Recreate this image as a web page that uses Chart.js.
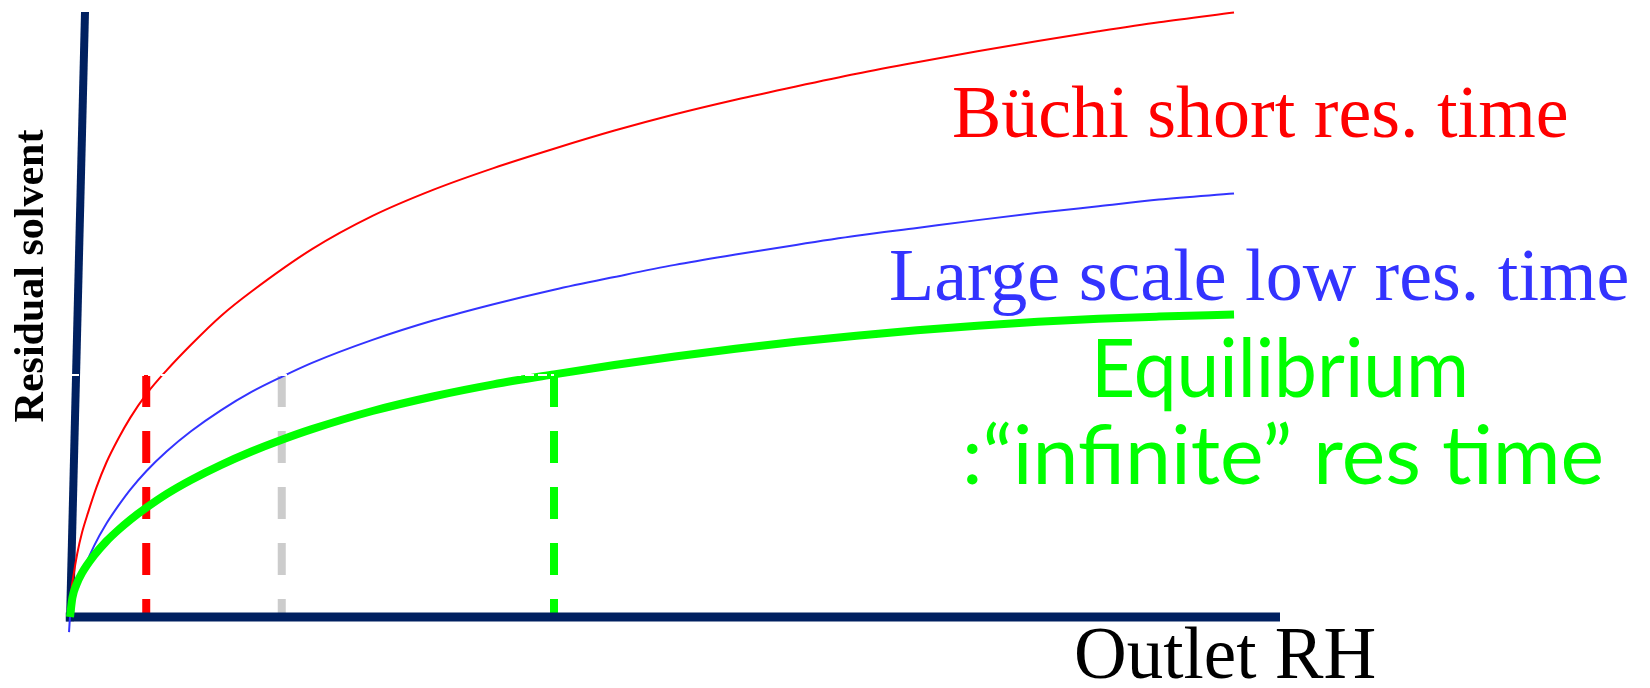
<!DOCTYPE html>
<html>
<head>
<meta charset="utf-8">
<script src="https://cdn.jsdelivr.net/npm/chart.js@4"></script>
<style>
  html, body { margin: 0; padding: 0; background: #ffffff; }
  #wrap { width: 1650px; height: 688px; }
</style>
</head>
<body>
<div id="wrap"><canvas id="c" width="1650" height="688"></canvas></div>
<script>
// Residual solvent vs outlet RH, three drying regimes (arbitrary units 0-100)
const redX   = [0, 0.1, 0.3, 0.6, 1, 1.5, 2.2, 3, 4, 5, 6.3, 8, 10, 12.5, 15, 20, 25, 30, 35, 40, 45, 50, 55, 60, 65, 70, 75, 80, 85, 90, 96.2];
const redY   = [0, 4, 7, 10.5, 14, 17.3, 21.5, 25.5, 29.5, 33, 36.8, 40.8, 45, 49.8, 53.8, 60.8, 66.3, 70.6, 74.2, 77.4, 80.4, 83.1, 85.5, 87.7, 89.8, 91.7, 93.5, 95.2, 96.8, 98.3, 99.9];

const blueX  = [-0.08, 0, 0.3, 0.7, 1.2, 2, 3, 4, 5, 6.3, 8, 10, 12.5, 15, 17.5, 20, 25, 30, 35, 40, 45, 50, 55, 60, 65, 70, 75, 80, 85, 90, 96.2];
const blueY  = [-2.5, 0, 3, 5.5, 8.2, 11.8, 15.4, 18.4, 21.1, 24.1, 27.4, 30.7, 34.2, 37.2, 39.7, 42, 45.8, 49, 51.7, 54.1, 56.2, 58.2, 59.9, 61.5, 63, 64.3, 65.6, 66.8, 67.9, 69, 70];

const greenX = [0, 0.2, 0.5, 1, 2, 3, 4, 5, 6.3, 8, 10, 12.5, 15, 17.5, 20, 25, 30, 35, 40, 45, 50, 55, 60, 65, 70, 75, 80, 85, 90, 96.2];
const greenY = [0, 3.2, 5.2, 7.3, 10.2, 12.5, 14.4, 16.1, 18.05, 20.35, 22.65, 25.15, 27.35, 29.3, 31.05, 34.05, 36.45, 38.45, 40.1, 41.65, 43.05, 44.35, 45.5, 46.5, 47.4, 48.15, 48.8, 49.3, 49.65, 50];

// drop lines from each curve down to the RH axis
const dropX      = [6.3, 17.5, 40];
const dropColors = ['#FF0000', '#CCCCCC', '#00FF00'];
const dropLevel  = 40;

// axis frame (y axis leans slightly right)
const axisXLine = { x: [-0.35, 100], y: [0, 0] };
const axisYLine = { x: [0, 1.24], y: [-0.7, 100] };

// faint guide at the drop-line level
const guideX = [0, 40];
const guideY = [40, 40];

const pts = (xs, ys) => xs.map((x, i) => ({ x: x, y: ys[i] }));

const curve = (data, color, width, order) => ({
  data: data, borderColor: color, borderWidth: width, order: order,
  pointRadius: 0, cubicInterpolationMode: 'monotone', fill: false, clip: false
});

const datasets = [
  { data: pts(guideX, guideY), borderColor: '#ffffff', borderWidth: 2, borderDash: [9, 4],
    pointRadius: 0, order: 0, clip: false },
  curve(pts(greenX, greenY), '#00FF00', 8, 1),
  curve(pts(redX, redY), '#FF0000', 2, 2),
  curve(pts(blueX, blueY), '#3333FF', 2, 3),
  { data: pts(axisXLine.x, axisXLine.y), borderColor: '#002060', borderWidth: 9,
    pointRadius: 0, order: 4, clip: false },
  { data: pts(axisYLine.x, axisYLine.y), borderColor: '#002060', borderWidth: 8,
    pointRadius: 0, order: 4, clip: false }
];
dropX.forEach((x, i) => {
  datasets.push({
    data: pts([x, x], [dropLevel, 0]), borderColor: dropColors[i], borderWidth: 8,
    borderDash: [32, 24], pointRadius: 0, order: 5, clip: false
  });
});

const serif = "'Liberation Serif', 'Times New Roman', serif";
const hand  = "'Comic Sans MS', 'Lato', sans-serif";

function fitted(ctx, text, x0, baseline, width, font) {
  ctx.font = font;
  const w = ctx.measureText(text).width;
  ctx.save();
  ctx.translate(x0, baseline);
  ctx.scale(width / w, 1);
  ctx.fillText(text, 0, 0);
  ctx.restore();
}

const labels = {
  id: 'labels',
  afterDraw(chart) {
    const ctx = chart.ctx;
    ctx.save();
    ctx.textAlign = 'left';
    ctx.textBaseline = 'alphabetic';

    ctx.fillStyle = '#FF0000';
    ctx.font = '74px ' + serif;
    ctx.fillText('Büchi short res. time', 952, 137);

    ctx.fillStyle = '#3333FF';
    ctx.font = '74px ' + serif;
    ctx.fillText('Large scale low res. time', 889, 300);

    ctx.fillStyle = '#00FF00';
    fitted(ctx, 'Equilibrium', 1091, 397, 378, '82px ' + hand);
    fitted(ctx, ':\u201Cinfinite\u201D res time', 962, 484, 642, '82px ' + hand);

    ctx.fillStyle = '#000000';
    ctx.font = '73px ' + serif;
    ctx.fillText('Outlet RH', 1074, 678);

    ctx.save();
    ctx.translate(43, 276);
    ctx.rotate(-Math.PI / 2);
    ctx.textAlign = 'center';
    ctx.font = 'bold 42px ' + serif;
    ctx.fillText('Residual solvent', 0, 0);
    ctx.restore();

    ctx.restore();
  }
};

new Chart(document.getElementById('c'), {
  type: 'line',
  data: { datasets: datasets },
  options: {
    responsive: false,
    animation: false,
    layout: { padding: { left: 70, right: 370, top: 12, bottom: 71 } },
    plugins: { legend: { display: false }, tooltip: { enabled: false } },
    scales: {
      x: { type: 'linear', min: 0, max: 100, display: false },
      y: { type: 'linear', min: 0, max: 100, display: false }
    }
  },
  plugins: [labels]
});
</script>
</body>
</html>
